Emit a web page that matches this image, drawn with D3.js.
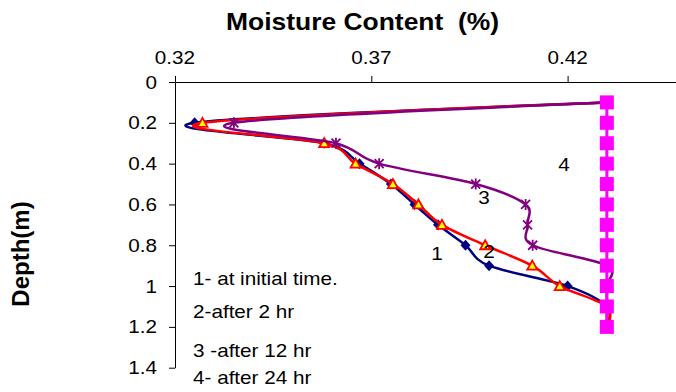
<!DOCTYPE html>
<html><head><meta charset="utf-8">
<script src="https://cdn.jsdelivr.net/npm/d3@7/dist/d3.min.js"></script>
<style>html,body{margin:0;padding:0;background:#fff;}svg{display:block;}text{font-family:"Liberation Sans",Arial,sans-serif;white-space:pre;}</style>
</head><body>
<svg id="c" width="676" height="392"></svg>
<script>
// ---- data ----
const depths = [0.1,0.2,0.3,0.4,0.5,0.6,0.7,0.8,0.9,1.0,1.1,1.2];
const initialTime = [0.43,0.325,0.358,0.367,0.375,0.381,0.387,0.394,0.400,0.420,0.43,0.43];
const after2hr   = [0.43,0.327,0.358,0.366,0.3755,0.382,0.388,0.399,0.411,0.418,0.43,0.43];
const after12hr  = [0.43,0.335,0.361,0.372,0.3966,0.4093,0.4098,0.4111,0.43,0.43,0.43,0.43];
const after24hr  = [0.43,0.43,0.43,0.43,0.43,0.43,0.43,0.43,0.43,0.43,0.43,0.43];
const xTicks = [0.32,0.37,0.42];
const xTickLabels = ["0.32","0.37","0.42"];
const yTicks = [0,0.2,0.4,0.6,0.8,1.0,1.2,1.4];
const yTickLabels = ["0","0.2","0.4","0.6","0.8","1","1.2","1.4"];
const legendLines = ["1- at initial time.","2-after 2 hr","3 -after 12 hr","4- after 24 hr"];
const curveLabels = ["1","2","3","4"];
const title = "Moisture Content  (%)";
const yTitle = "Depth(m)";

// ---- layout ----
const svg = d3.select("#c");
const x = d3.scaleLinear().domain([0.32,0.47]).range([175,175+3*196.3]);
const y = d3.scaleLinear().domain([0,1.4]).range([82,367.7]);
const SX = 1.15;

function txt(s, px, py, o={}){
  const t = svg.append("text")
    .attr("transform", o.rot ? `translate(${px},${py}) rotate(${o.rot})` : `translate(${px},${py}) scale(${o.sx||SX},1)`)
    .attr("text-anchor", o.anchor||"start")
    .attr("font-size", o.size||18)
    .attr("font-weight", o.bold?"bold":"normal")
    .attr("fill","#000")
    .text(s);
  return t;
}

// axes
const xAxis = d3.axisTop(x).tickValues(xTicks).tickSize(6).tickSizeOuter(0).tickFormat("");
svg.append("g").attr("transform","translate(0,82)").call(xAxis)
  .call(g=>g.selectAll("path,line").attr("stroke","#000").attr("stroke-width",1));
const yAxis = d3.axisLeft(y).tickValues(yTicks).tickSize(6).tickSizeOuter(0).tickFormat("");
svg.append("g").attr("transform","translate(175,0)").call(yAxis)
  .call(g=>g.selectAll("path,line").attr("stroke","#000").attr("stroke-width",1));

xTicks.forEach((v,i)=>txt(xTickLabels[i], x(v), 64, {anchor:"middle"}));
yTicks.forEach((v,i)=>txt(yTickLabels[i], 157, y(v)+6.5, {anchor:"end"}));

txt(title, 226, 30, {bold:true, size:23});
txt(yTitle, 29, 254, {bold:true, size:24, rot:-90, anchor:"middle"});

// series
const curve = d3.curveCardinal.tension(0);
const series = [
  {vals: initialTime, color:"#000080", w:2.5},
  {vals: after2hr, color:"#FF0000", w:2.5},
  {vals: after12hr, color:"#800080", w:2.5},
  {vals: after24hr, color:"#FF00FF", w:3}
];
const line = d3.line().x(d=>x(d[0])).y(d=>y(d[1])).curve(curve);
const line4 = d3.line().x(d=>x(d[0])).y(d=>y(d[1]));

series.forEach((s,si)=>{
  const pts = s.vals.map((v,i)=>[v,depths[i]]);
  svg.append("path").attr("d", si===3 ? line4(pts) : line(pts))
    .attr("fill","none").attr("stroke",s.color).attr("stroke-width",s.w)
    .attr("stroke-linejoin","round");
  const g = svg.append("g");
  pts.forEach(p=>{
    const cx = x(p[0]), cy = y(p[1]);
    if(si===0){
      g.append("path").attr("d",`M${cx},${cy-5.5}L${cx+5},${cy}L${cx},${cy+5.5}L${cx-5},${cy}Z`).attr("fill","#000080");
    } else if(si===1){
      g.append("path").attr("d",`M${cx},${cy-5}L${cx+5},${cy+4}L${cx-5},${cy+4}Z`)
        .attr("fill","#FFFF00").attr("stroke","#FF0000").attr("stroke-width",1.8).attr("stroke-linejoin","miter");
    } else if(si===2){
      g.append("path").attr("d",`M${cx-4.5},${cy-4.5}L${cx+4.5},${cy+4.5}M${cx+4.5},${cy-4.5}L${cx-4.5},${cy+4.5}M${cx},${cy-5.5}L${cx},${cy+5.5}`)
        .attr("stroke","#800080").attr("stroke-width",1.8).attr("fill","none");
    } else {
      g.append("rect").attr("x",cx-7).attr("y",cy-7).attr("width",14).attr("height",14).attr("fill","#FF00FF");
    }
  });
});

// curve number labels
const labelPos = [[437,260],[489,258],[484,204],[564,171]];
curveLabels.forEach((s,i)=>txt(s, labelPos[i][0], labelPos[i][1], {anchor:"middle"}));

// legend text
const legBase = [284.5,318,356.5,384];
legendLines.forEach((s,i)=>txt(s, 193, legBase[i]));
</script>
</body></html>
